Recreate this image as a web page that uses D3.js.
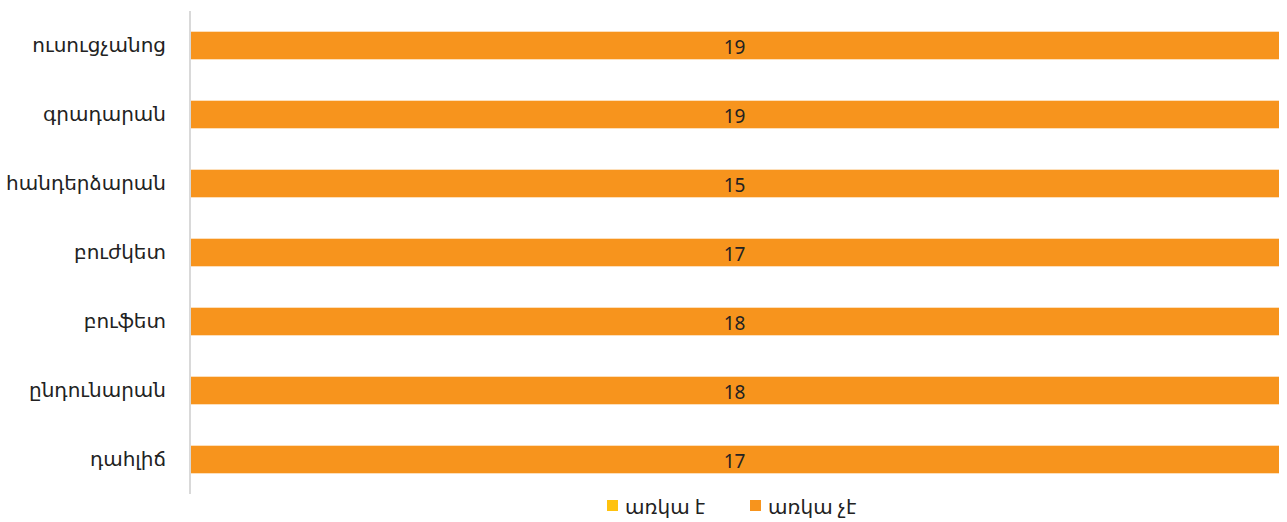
<!DOCTYPE html>
<html>
<head>
<meta charset="utf-8">
<script src="https://cdn.jsdelivr.net/npm/d3@7"></script>
<style>
  body { margin: 0; background: #fff; }
  text { font-family: "Noto Sans", "DejaVu Sans", sans-serif; }
</style>
</head>
<body>
<svg id="chart" width="1287" height="522"></svg>
<script>
const categories = ["ուսուցչանոց", "գրադարան", "հանդերձարան", "բուժկետ", "բուֆետ", "ընդունարան", "դահլիճ"];
const seriesNames = ["առկա է", "առկա չէ"];
const present = [0, 0, 0, 0, 0, 0, 0];
const absent = [19, 19, 15, 17, 18, 18, 17];
const colors = ["#FFC20E", "#F7941D"];

const margin = {top: 11, right: 8, bottom: 28, left: 190};
const width = 1287 - margin.left - margin.right;
const height = 522 - margin.top - margin.bottom;

const svg = d3.select("#chart");
const g = svg.append("g")
  .attr("transform", `translate(${margin.left},${margin.top})`);

const rows = categories.map((c, i) => ({cat: c, [seriesNames[0]]: present[i], [seriesNames[1]]: absent[i]}));

// 100% stacked
const stacked = d3.stack()
  .keys(seriesNames)
  .offset(d3.stackOffsetExpand)(rows);

const x = d3.scaleLinear().domain([0, 1]).range([0, width]);
const y = d3.scaleBand()
  .domain(categories)
  .range([0, height])
  .paddingInner(0.6)
  .paddingOuter(0.3);

const color = d3.scaleOrdinal().domain(seriesNames).range(colors);

stacked.forEach(s => {
  g.selectAll(null)
    .data(s)
    .enter()
    .append("rect")
    .attr("x", d => x(d[0]))
    .attr("y", d => y(d.data.cat))
    .attr("width", d => Math.max(0, x(d[1]) - x(d[0])))
    .attr("height", y.bandwidth())
    .attr("fill", color(s.key));

  // labels only for non-zero segments
  g.selectAll(null)
    .data(s.filter(d => d.data[s.key] > 0))
    .enter()
    .append("text")
    .attr("x", d => x((d[0] + d[1]) / 2))
    .attr("y", d => y(d.data.cat) + y.bandwidth() / 2 + 1)
    .attr("text-anchor", "middle")
    .attr("dominant-baseline", "central")
    .attr("font-size", 19)
    .attr("fill", "#222")
    .text(d => d.data[s.key]);
});

// y axis
const yAxis = g.append("g")
  .call(d3.axisLeft(y).tickSize(0).tickPadding(24));
yAxis.select(".domain").attr("stroke", "#d9d9d9").attr("stroke-width", 2).attr("d", `M0,0V${height}`);
yAxis.selectAll("text").attr("font-size", 20).attr("fill", "#222").style("font-family", "'Noto Sans', 'DejaVu Sans', sans-serif");

// legend
const legend = svg.append("g").attr("transform", "translate(607,500)");
const legendX = [0, 143];
seriesNames.forEach((name, i) => {
  const item = legend.append("g").attr("transform", `translate(${legendX[i]},0)`);
  item.append("rect").attr("width", 11).attr("height", 11).attr("fill", colors[i]);
  item.append("text")
    .attr("x", 18)
    .attr("y", 6)
    .attr("dominant-baseline", "central")
    .attr("font-size", 20)
    .attr("fill", "#222")
    .text(name);
});
</script>
</body>
</html>
